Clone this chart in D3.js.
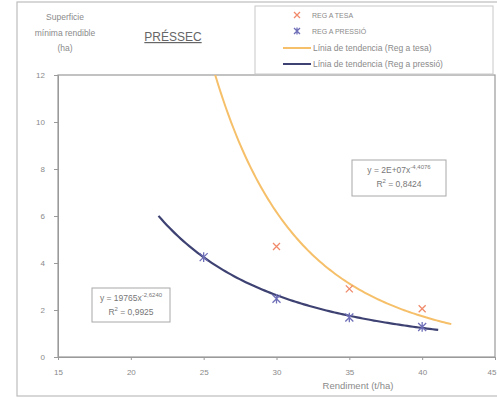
<!DOCTYPE html>
<html><head><meta charset="utf-8">
<script src="https://cdn.jsdelivr.net/npm/d3@7"></script>
<style>body{margin:0;background:#fff}svg{display:block;font-family:"Liberation Sans",Arial,sans-serif}</style>
</head><body>
<svg id="c" width="497" height="400"></svg>
<script>
const xTicks = [15, 20, 25, 30, 35, 40, 45];
const yTicks = [0, 2, 4, 6, 8, 10, 12];
const rendTesa = [30, 35, 40];
const supTesa = [4.7, 2.9, 2.05];
const rendPressio = [25, 30, 35, 40];
const supPressio = [4.25, 2.48, 1.68, 1.28];
// trend lines (power fit y = a*x^b) as shown in the chart
const trendTesa = {a: 2e7, b: -4.408, from: 25, to: 42};
const trendPressio = {a: 19765, b: -2.624, from: 21.9, to: 41.1};
const legendLabels = ["REG A TESA", "REG A PRESSIÓ", "Línia de tendencia (Reg a tesa)", "Línia de tendencia (Reg a pressió)"];

const svg = d3.select("#c");
const m = {l: 58, t: 75, r: 495, b: 357};
const x = d3.scaleLinear().domain([15, 45]).range([m.l, m.r]);
const y = d3.scaleLinear().domain([0, 12]).range([m.b, m.t]);
const txt = "#8a8a8a";
const cTesaLine = "#f6c06a", cTesaPt = "#f08a6a";
const cPresLine = "#3e4272", cPresPt = "#6f6fb8";

// outer frame
svg.append("rect").attr("x", 17).attr("y", 2).attr("width", 482).attr("height", 394)
  .attr("fill", "none").attr("stroke", "#bdbdbd").attr("stroke-width", 1.2);

// plot box
svg.append("rect").attr("x", m.l).attr("y", m.t).attr("width", m.r - m.l).attr("height", m.b - m.t)
  .attr("fill", "#fff").attr("stroke", "#9a9a9a").attr("stroke-width", 1.2);

const gx = svg.append("g").attr("transform", `translate(0,${m.b})`)
  .call(d3.axisBottom(x).tickValues(xTicks).tickSize(3).tickPadding(9));
const gy = svg.append("g").attr("transform", `translate(${m.l},0)`)
  .call(d3.axisLeft(y).tickValues(yTicks).tickSize(4).tickPadding(9));
[gx, gy].forEach(g => {
  g.select(".domain").attr("stroke", "#9a9a9a");
  g.selectAll(".tick line").attr("stroke", "#9a9a9a");
  g.selectAll(".tick text").attr("fill", txt).attr("font-size", 8).attr("font-family", "Liberation Sans, Arial, sans-serif");
});
gx.selectAll(".tick text").filter(d => d === 45).attr("text-anchor", "end").attr("dx", 1);

// clip
svg.append("clipPath").attr("id", "clip").append("rect")
  .attr("x", m.l).attr("y", m.t).attr("width", m.r - m.l).attr("height", m.b - m.t);

function trend(t) {
  const pts = d3.range(0, 101).map(i => {
    const xv = t.from + (t.to - t.from) * i / 100;
    return [xv, t.a * Math.pow(xv, t.b)];
  });
  return d3.line().x(d => x(d[0])).y(d => y(d[1]))(pts);
}
svg.append("path").attr("d", trend(trendTesa)).attr("clip-path", "url(#clip)")
  .attr("fill", "none").attr("stroke", cTesaLine).attr("stroke-width", 2);
svg.append("path").attr("d", trend(trendPressio)).attr("clip-path", "url(#clip)")
  .attr("fill", "none").attr("stroke", cPresLine).attr("stroke-width", 2.2);

function xMark(g, cx, cy, s, col) {
  g.append("path").attr("d", `M${cx-s},${cy-s}L${cx+s},${cy+s}M${cx+s},${cy-s}L${cx-s},${cy+s}`)
    .attr("stroke", col).attr("stroke-width", 1.3).attr("fill", "none");
}
function starMark(g, cx, cy, s, col) {
  g.append("path").attr("d", `M${cx-s},${cy-s}L${cx+s},${cy+s}M${cx+s},${cy-s}L${cx-s},${cy+s}M${cx},${cy-s*1.2}L${cx},${cy+s*1.2}`)
    .attr("stroke", col).attr("stroke-width", 1.3).attr("fill", "none");
}
const gp = svg.append("g");
rendTesa.forEach((r, i) => xMark(gp, x(r), y(supTesa[i]), 3.5, cTesaPt));
rendPressio.forEach((r, i) => starMark(gp, x(r), y(supPressio[i]), 4, cPresPt));

// equation boxes
function eqBox(bx, by, bw, bh, a, e, r2) {
  const g = svg.append("g");
  g.append("rect").attr("x", bx).attr("y", by).attr("width", bw).attr("height", bh)
    .attr("fill", "#fff").attr("stroke", "#a8a8a8").attr("stroke-width", 1);
  const t1 = g.append("text").attr("x", bx + bw / 2).attr("y", by + 13).attr("text-anchor", "middle")
    .attr("fill", "#777").attr("font-size", 8.5);
  t1.append("tspan").text(`y = ${a}x`);
  t1.append("tspan").attr("dy", -4).attr("font-size", 6).text(e);
  const t2 = g.append("text").attr("x", bx + bw / 2).attr("y", by + 27).attr("text-anchor", "middle")
    .attr("fill", "#777").attr("font-size", 8.5);
  t2.append("tspan").text("R");
  t2.append("tspan").attr("dy", -4).attr("font-size", 6).text("2");
  t2.append("tspan").attr("dy", 4).text(` = ${r2}`);
}
eqBox(352, 160, 94, 36, "2E+07", "-4,4076", "0,8424");
eqBox(92, 288, 78, 34, "19765", "-2,6240", "0,9925");

// legend
const lg = svg.append("g");
lg.append("rect").attr("x", 255).attr("y", 6).attr("width", 238).attr("height", 68)
  .attr("fill", "#fff").attr("stroke", "#c8c8c8").attr("stroke-width", 1);
const ly = [15, 31, 48, 64];
xMark(lg, 297, ly[0], 3, cTesaPt);
starMark(lg, 297, ly[1], 3, cPresPt);
lg.append("line").attr("x1", 283).attr("x2", 311).attr("y1", ly[2]).attr("y2", ly[2]).attr("stroke", cTesaLine).attr("stroke-width", 2);
lg.append("line").attr("x1", 283).attr("x2", 311).attr("y1", ly[3]).attr("y2", ly[3]).attr("stroke", cPresLine).attr("stroke-width", 2);
legendLabels.forEach((l, i) => {
  lg.append("text").attr("x", i < 2 ? 312 : 313).attr("y", ly[i] + 3).attr("fill", txt)
    .attr("font-size", i < 2 ? 7 : 8.5).text(l);
});

// titles
const yt = svg.append("text").attr("text-anchor", "middle").attr("fill", txt).attr("font-size", 8.5);
[["Superficie", 20], ["mínima rendible", 36], ["(ha)", 51]].forEach(([s, yy]) =>
  yt.append("tspan").attr("x", 65).attr("y", yy).text(s));
svg.append("text").attr("x", 173).attr("y", 41).attr("text-anchor", "middle").attr("fill", "#666")
  .attr("font-size", 12).attr("text-decoration", "underline").text("PRÉSSEC");
svg.append("text").attr("x", 358).attr("y", 389).attr("text-anchor", "middle").attr("fill", txt)
  .attr("font-size", 9.5).text("Rendiment (t/ha)");
</script>
</body></html>
